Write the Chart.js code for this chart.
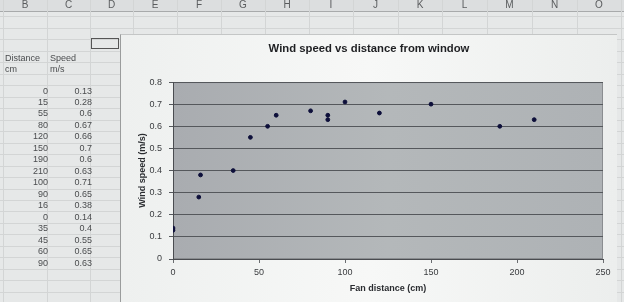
<!DOCTYPE html>
<html>
<head>
<meta charset="utf-8">
<script src="https://cdn.jsdelivr.net/npm/chart.js@4"></script>
<style>
html,body{margin:0;padding:0;}
body{width:624px;height:302px;overflow:hidden;position:relative;background:#e6e8e8;font-family:"Liberation Sans",Arial,sans-serif;}
#bg{position:absolute;left:0;top:0;}
.t{position:absolute;font-size:9px;color:#4a4c4e;line-height:11px;white-space:nowrap;}
.h{position:absolute;top:-1px;font-size:10px;color:#5a5c5e;width:20px;text-align:center;margin-left:-10px;}
#panel{position:absolute;left:120px;top:34px;width:497px;height:268px;background:linear-gradient(to right,#eef0ef,#f7f8f7 50%,#eceeed);border-left:1px solid #9a9c9c;border-top:1px solid #c4c6c6;box-sizing:border-box;}
#sel{position:absolute;left:91px;top:38px;width:28px;height:11px;border:1px solid #555;box-sizing:border-box;}
</style>
</head>
<body>
<canvas id="bg" width="624" height="302"></canvas>
<div id="sel"></div>
<div id="panel"><canvas id="c" width="496" height="267"></canvas></div>
<script>
const columnLetters = ["B","C","D","E","F","G","H","I","J","K","L","M","N","O"];
const distances = [0,15,55,80,120,150,190,210,100,90,16,0,35,45,60,90];
const speeds = [0.13,0.28,0.6,0.67,0.66,0.7,0.6,0.63,0.71,0.65,0.38,0.14,0.4,0.55,0.65,0.63];
const xTickValues = [0,50,100,150,200,250];
const yTickValues = [0,0.1,0.2,0.3,0.4,0.5,0.6,0.7,0.8];
const chartTitle = "Wind speed vs distance from window";
const xTitle = "Fan distance (cm)";
const yTitle = "Wind speed (m/s)";

// spreadsheet background
const bg = document.getElementById('bg').getContext('2d');
const colBounds = [3,47,90,133,177,221,265,309,353,398,442,487,532,577,621];
bg.fillStyle = '#dcdedf';
bg.fillRect(0,0,624,11);
bg.strokeStyle = '#a8aaab';
bg.beginPath(); bg.moveTo(0,11.5); bg.lineTo(624,11.5); bg.stroke();
bg.strokeStyle = '#d3d5d5';
for (const x of colBounds) { bg.beginPath(); bg.moveTo(x+0.5,0); bg.lineTo(x+0.5,302); bg.stroke(); }
for (let k=-6;k<19;k++){ const y=Math.round(85.3+11.47*k)+0.5; if(y<12) continue; bg.beginPath(); bg.moveTo(0,y); bg.lineTo(624,y); bg.stroke(); }
for (let i=0;i<columnLetters.length;i++){
  const d=document.createElement('div'); d.className='h';
  d.style.left=((colBounds[i]+colBounds[i+1])/2)+'px'; d.textContent=columnLetters[i];
  document.body.appendChild(d);
}
function addText(txt,x,y,right){
  const d=document.createElement('div'); d.className='t'; d.textContent=txt;
  d.style.top=(y-5.5)+'px';
  if(right){ d.style.right=(624-x)+'px'; } else { d.style.left=x+'px'; }
  document.body.insertBefore(d, document.getElementById('panel'));
}
addText('Distance',5,58); addText('cm',5,69); addText('Speed',50,58); addText('m/s',50,69);
for (let i=0;i<distances.length;i++){
  const y=91+11.47*i;
  addText(String(distances[i]),48,y,true);
  addText(String(speeds[i]),92,y,true);
}

const plotBg = {
  id:'plotBg',
  beforeDraw(chart){
    const {ctx, chartArea:a} = chart;
    const g = ctx.createLinearGradient(a.left,0,a.right,0);
    g.addColorStop(0,'#a9acb0'); g.addColorStop(0.5,'#b4b8ba'); g.addColorStop(1,'#aeb2b5');
    ctx.save(); ctx.fillStyle=g; ctx.fillRect(a.left,a.top,a.right-a.left,a.bottom-a.top);
    ctx.strokeStyle='#8a8d90'; ctx.lineWidth=1;
    ctx.strokeRect(a.left+0.5,a.top+0.5,a.right-a.left-1,a.bottom-a.top-1);
    ctx.restore();
  }
};

new Chart(document.getElementById('c'), {
  type:'scatter',
  data:{ datasets:[{ data: distances.map((d,i)=>({x:d,y:speeds[i]})), backgroundColor:'#0d0f3a', borderColor:'#0d0f3a', pointRadius:1.9, pointHoverRadius:1.9 }] },
  plugins:[plotBg],
  options:{
    responsive:false, animation:false,
    layout:{padding:{left:14,right:14,top:0,bottom:0}},
    plugins:{
      legend:{display:false}, tooltip:{enabled:false},
      title:{display:true,text:chartTitle,color:'#1e1f22',font:{family:'"Liberation Sans",Arial',size:11.3,weight:'bold'},padding:{top:7.5,bottom:26}}
    },
    scales:{
      x:{ type:'linear', min:0, max:250,
        afterBuildTicks(s){ s.ticks = xTickValues.map(v=>({value:v})); },
        afterFit(s){ s.height = 43; },
        ticks:{ color:'#3a3c3f', font:{family:'"Liberation Sans",Arial',size:9}, padding:4, maxRotation:0 },
        grid:{ drawOnChartArea:false, drawTicks:true, tickLength:4, color:'#6a6d70' },
        border:{ color:'#4a4c50' },
        title:{ display:true, text:xTitle, color:'#2a2c30', font:{family:'"Liberation Sans",Arial',size:9,weight:'bold'}, padding:{top:0,bottom:8} }
      },
      y:{ type:'linear', min:0, max:0.8,
        afterBuildTicks(s){ s.ticks = yTickValues.map(v=>({value:v})); },
        afterFit(s){ s.width = 38; },
        ticks:{ color:'#3a3c3f', font:{family:'"Liberation Sans",Arial',size:9}, padding:7 },
        grid:{ color:'#55585c', lineWidth:1, tickLength:4 },
        border:{ color:'#4a4c50' },
        title:{ display:true, text:yTitle, color:'#2a2c30', font:{family:'"Liberation Sans",Arial',size:9,weight:'bold'}, padding:{top:2,bottom:0} }
      }
    }
  }
});
</script>
</body>
</html>
